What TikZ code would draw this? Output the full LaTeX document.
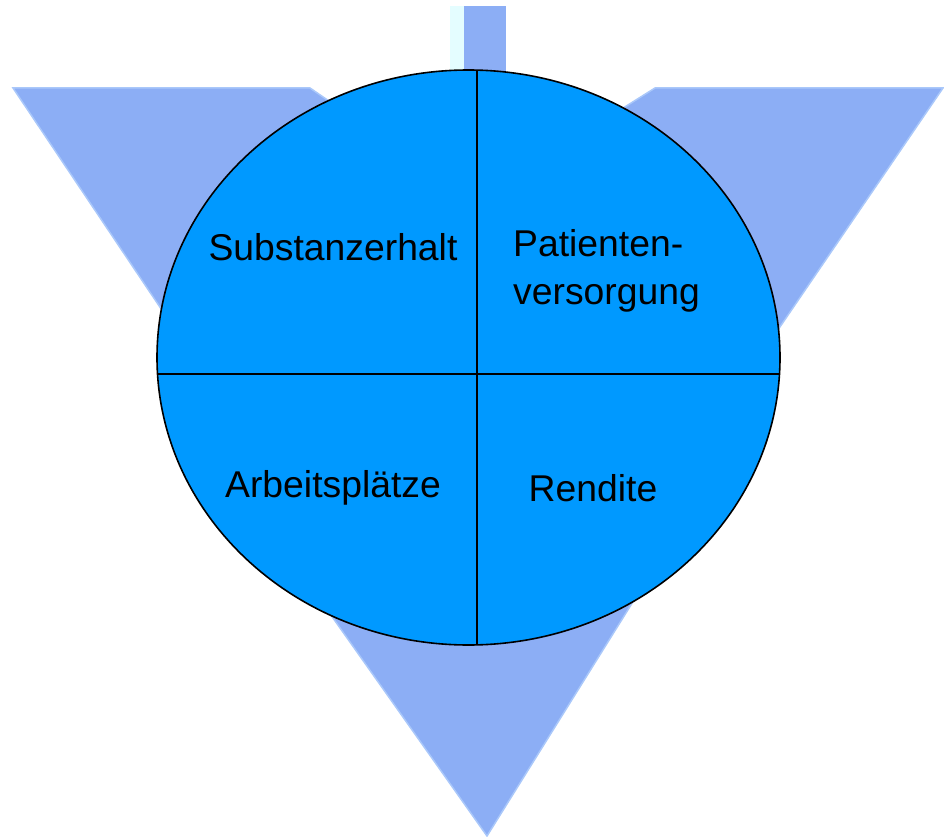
\documentclass[tikz,border=0pt]{standalone}
\usepackage{fontspec}
\setmainfont{Liberation Sans}
\usetikzlibrary{shapes.geometric}
\definecolor{tri}{RGB}{140,174,245}
\definecolor{triedge}{RGB}{170,200,250}
\definecolor{paleedge}{RGB}{228,253,255}
\definecolor{disc}{RGB}{0,153,255}
\tikzset{
  wedge/.style={fill=tri, draw=triedge, line width=1.5pt, line join=miter},
  label/.style={font=\fontsize{37.3}{48}\selectfont, inner sep=0pt, text=black},
}
\begin{document}
\begin{tikzpicture}[x=1pt,y=-1pt]
\useasboundingbox (0,0) rectangle (944,837);
% wedges behind the disc
\fill[paleedge] (450,6) rectangle (464,72);
\fill[tri] (464,6) rectangle (506,72);
\draw[wedge] (13,88) -- (310,88) -- (345,112) -- (400,400) -- (182,340) -- cycle;
\draw[wedge] (655,88) -- (943,88) -- (771,340) -- (550,400) -- (612,115) -- cycle;
\draw[wedge] (292,560) -- (659,560) -- (487,836) -- cycle;
% disc
\node (c) [ellipse, draw=black, fill=disc, line width=1.6pt, minimum width=623pt, minimum height=575pt, inner sep=0pt] at (468.5,357.5) {};
\coordinate (vt) at (477,70);
\coordinate (vb) at (477,645);
\coordinate (hl) at (157,374);
\coordinate (hr) at (780,374);
\draw[line width=1.3pt] (vt) -- (vb);
\draw[line width=1.3pt] (hl) -- (hr);
% labels
\node[label] (s) at (333,247) {Substanzerhalt};
\node[label, align=left, anchor=west] (p) at (513,271) {Patienten-\\versorgung};
\node[label] (a) at (333,488) {Arbeitsplätze};
\node[label] (r) at (593,488) {Rendite};
\end{tikzpicture}
\end{document}
